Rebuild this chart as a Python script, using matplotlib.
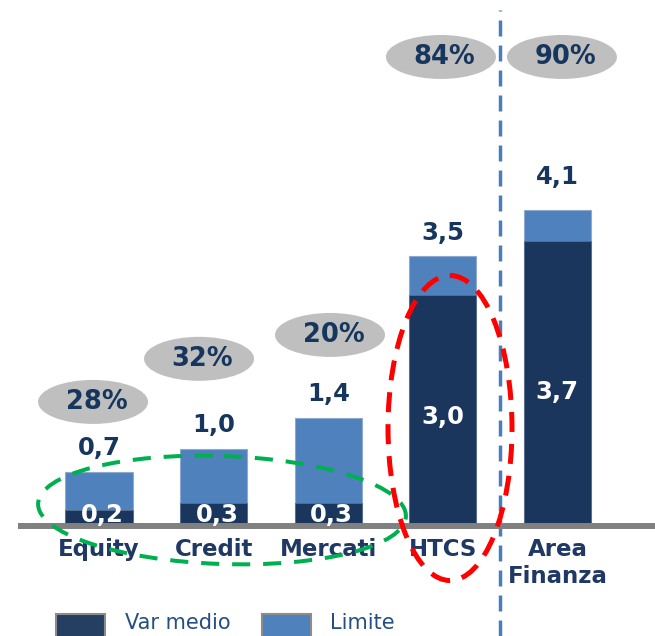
import matplotlib.pyplot as plt
from matplotlib.patches import Ellipse, Rectangle
import matplotlib.transforms as mtransforms

# data
categories = ['Equity', 'Credit', 'Mercati', 'HTCS', 'Area\nFinanza']
var_medio = [0.2, 0.3, 0.3, 3.0, 3.7]
limite = [0.7, 1.0, 1.4, 3.5, 4.1]
utilizzo = ['28%', '32%', '20%', '84%', '90%']

DARK = '#1B365D'
LIGHT = '#4F81BD'
NAVY = '#17365D'
GREY_BUBBLE = '#BFBFBF'

W, H = 655, 636
fig = plt.figure(figsize=(W / 100, H / 100), dpi=100)
ax = fig.add_axes([0, 0, 1, 1])
ax.set_xlim(-0.864, 4.852)
ax.set_ylim(-1.43, 6.83)
ax.axis('off')

# pixel transform (origin top-left) for the hand drawn highlights
px = mtransforms.Affine2D().scale(1 / W, -1 / H).translate(0, 1) + fig.transFigure

x = list(range(len(categories)))
bw = 0.585

ax.bar(x, limite, width=bw, color=LIGHT, edgecolor='#8EAAD2', linewidth=0.8, zorder=2)
ax.bar(x, var_medio, width=bw, color=DARK, edgecolor='#5A6F8C', linewidth=0.6, zorder=3)

# baseline
ax.plot([-0.71, 4.852], [0, 0], color='#808080', lw=4.3, solid_capstyle='butt', zorder=4)

for i in x:
    ax.annotate(f'{limite[i]:.1f}'.replace('.', ','), (i, limite[i]),
                xytext=(0, 17 if i < 4 else 24), textcoords='offset points',
                ha='center', va='center', fontsize=17.5, fontweight='bold', color=NAVY, zorder=5)
    y_in = var_medio[i] * 0.47 if var_medio[i] > 1 else 0.14
    ax.text(i + (0.03 if var_medio[i] < 1 else 0), y_in, f'{var_medio[i]:.1f}'.replace('.', ','),
            ha='center', va='center', fontsize=17.5, fontweight='bold', color='white', zorder=5)
    ax.text(i, -0.16, categories[i], ha='center', va='top', fontsize=16.5,
            fontweight='bold', color='#1F3864', linespacing=1.2, zorder=5)

# utilisation bubbles
bubble_x = [-0.052, 0.873, 2.016, 2.984, 4.04]
bubble_y = [1.61, 2.17, 2.48, 6.09, 6.09]
for bx, by, lab in zip(bubble_x, bubble_y, utilizzo):
    ax.add_patch(Ellipse((bx, by), 0.96, 0.571, facecolor=GREY_BUBBLE, edgecolor='none', zorder=2))
    ax.text(bx + 0.03, by, lab, ha='center', va='center', fontsize=18.5,
            fontweight='bold', color=NAVY, zorder=3)

# separator between desks and total
ax.plot([3.5, 3.5], [-1.43, 6.7], color='#4A7EBB', lw=2.5,
        linestyle=(0, (4.6, 2.6)), zorder=1)

# highlights
green = Ellipse((222, 510), 368, 108, angle=2, transform=px, fill=False,
                edgecolor='#00B050', lw=2.9, linestyle=(0, (4.5, 3.2)), zorder=6)
red = Ellipse((450, 428), 124, 305, transform=px, fill=False,
              edgecolor='#FF0000', lw=3.6, linestyle=(0, (4.0, 2.4)), zorder=7)
fig.patches.extend([green, red])

# legend
for x0, col, lab, tx in [(56, '#243F62', 'Var medio', 125), (262, LIGHT, 'Limite', 330)]:
    fig.patches.append(Rectangle((x0, 614), 49, 26, transform=px, facecolor=col,
                                 edgecolor='#8C8C8C', lw=1.5))
    fig.text(tx / W, 1 - 623 / H, lab, ha='left', va='center', fontsize=15, color='#254E82')

fig.savefig('out.png', dpi=100)
